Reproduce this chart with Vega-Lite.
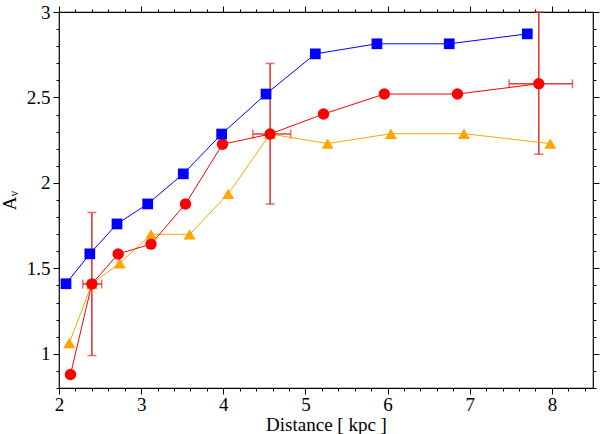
{
  "$schema": "https://vega.github.io/schema/vega-lite/v6.json",
  "description": "A_V versus distance, three series with error bars on the red one.",
  "width": 534,
  "height": 376,
  "autosize": "none",
  "padding": {"left": 59, "top": 12, "right": 7, "bottom": 46},
  "background": "white",
  "datasets": {
    "pts": [
      {"s": "o", "x": 2.125, "y": 1.063},
      {"s": "o", "x": 2.40, "y": 1.409},
      {"s": "o", "x": 2.74, "y": 1.53},
      {"s": "o", "x": 3.12, "y": 1.699},
      {"s": "o", "x": 3.59, "y": 1.699},
      {"s": "o", "x": 4.06, "y": 1.936},
      {"s": "o", "x": 4.57, "y": 2.286},
      {"s": "o", "x": 5.27, "y": 2.23},
      {"s": "o", "x": 6.04, "y": 2.288},
      {"s": "o", "x": 6.93, "y": 2.288},
      {"s": "o", "x": 7.98, "y": 2.23},
      {"s": "r", "x": 2.14, "y": 0.879},
      {"s": "r", "x": 2.40, "y": 1.409},
      {"s": "r", "x": 2.72, "y": 1.584},
      {"s": "r", "x": 3.12, "y": 1.642},
      {"s": "r", "x": 3.54, "y": 1.877},
      {"s": "r", "x": 3.99, "y": 2.226},
      {"s": "r", "x": 4.57, "y": 2.286},
      {"s": "r", "x": 5.22, "y": 2.403},
      {"s": "r", "x": 5.96, "y": 2.52},
      {"s": "r", "x": 6.85, "y": 2.52},
      {"s": "r", "x": 7.84, "y": 2.58},
      {"s": "b", "x": 2.085, "y": 1.41},
      {"s": "b", "x": 2.375, "y": 1.585},
      {"s": "b", "x": 2.706, "y": 1.76},
      {"s": "b", "x": 3.08, "y": 1.877},
      {"s": "b", "x": 3.513, "y": 2.053},
      {"s": "b", "x": 3.98, "y": 2.286},
      {"s": "b", "x": 4.52, "y": 2.52},
      {"s": "b", "x": 5.12, "y": 2.755},
      {"s": "b", "x": 5.87, "y": 2.814},
      {"s": "b", "x": 6.75, "y": 2.814},
      {"s": "b", "x": 7.70, "y": 2.872}
    ],
    "err": [
      {"x": 2.40, "y": 1.409, "ylo": 0.99, "yhi": 1.827, "xlo": 2.29, "xhi": 2.52},
      {"x": 4.57, "y": 2.286, "ylo": 1.876, "yhi": 2.699, "xlo": 4.36, "xhi": 4.82},
      {"x": 7.84, "y": 2.58, "ylo": 2.168, "yhi": 3.0, "xlo": 7.48, "xhi": 8.25}
    ]
  },
  "resolve": {
    "scale": {"x": "independent", "y": "independent"},
    "axis": {"x": "independent", "y": "independent"}
  },
  "layer": [
    {
      "data": {"name": "err"},
      "mark": {"type": "rule", "color": "#e23b3b", "strokeWidth": 1.6},
      "encoding": {
        "x": {"field": "x", "type": "quantitative", "scale": {"domain": [2, 8.5], "nice": false, "zero": false},
          "axis": {"orient": "bottom", "values": [2, 2.2, 2.4, 2.6, 2.8, 3, 3.2, 3.4, 3.6, 3.8, 4, 4.2, 4.4, 4.6, 4.8, 5, 5.2, 5.4, 5.6, 5.8, 6, 6.2, 6.4, 6.6, 6.8, 7, 7.2, 7.4, 7.6, 7.8, 8, 8.2, 8.4], "labelColor": "transparent", "tickSize": 3, "tickColor": "black", "title": "minor x", "titleColor": "transparent"}},
        "y": {"field": "ylo", "type": "quantitative", "scale": {"domain": [0.8, 3], "nice": false, "zero": false},
          "axis": {"orient": "left", "values": [0.8, 0.9, 1, 1.1, 1.2, 1.3, 1.4, 1.5, 1.6, 1.7, 1.8, 1.9, 2, 2.1, 2.2, 2.3, 2.4, 2.5, 2.6, 2.7, 2.8, 2.9, 3], "labelColor": "transparent", "tickSize": 3, "tickColor": "black", "title": "minor y", "titleColor": "transparent"}},
        "y2": {"field": "yhi"}
      }
    },
    {
      "data": {"name": "err"},
      "mark": {"type": "rule", "color": "#e23b3b", "strokeWidth": 1.6},
      "encoding": {
        "x": {"field": "xlo", "type": "quantitative", "scale": {"domain": [2, 8.5], "nice": false, "zero": false},
          "axis": {"orient": "top", "values": [2, 3, 4, 5, 6, 7, 8], "labelColor": "transparent", "tickSize": 6, "tickColor": "black", "title": "top", "titleColor": "transparent"}},
        "x2": {"field": "xhi"},
        "y": {"field": "y", "type": "quantitative", "scale": {"domain": [0.8, 3], "nice": false, "zero": false},
          "axis": {"orient": "right", "values": [1, 1.5, 2, 2.5, 3], "labelColor": "transparent", "tickSize": 6, "tickColor": "black", "title": "right", "titleColor": "transparent"}}
      }
    },
    {
      "data": {"name": "err"},
      "mark": {"type": "tick", "orient": "horizontal", "color": "#e23b3b", "size": 9, "thickness": 1.6},
      "encoding": {
        "x": {"field": "x", "type": "quantitative", "scale": {"domain": [2, 8.5], "nice": false, "zero": false},
          "axis": {"orient": "top", "values": [2, 2.2, 2.4, 2.6, 2.8, 3, 3.2, 3.4, 3.6, 3.8, 4, 4.2, 4.4, 4.6, 4.8, 5, 5.2, 5.4, 5.6, 5.8, 6, 6.2, 6.4, 6.6, 6.8, 7, 7.2, 7.4, 7.6, 7.8, 8, 8.2, 8.4], "labelColor": "transparent", "tickSize": 3, "tickColor": "black", "title": "top minor", "titleColor": "transparent"}},
        "y": {"field": "ylo", "type": "quantitative", "scale": {"domain": [0.8, 3], "nice": false, "zero": false},
          "axis": {"orient": "right", "values": [0.8, 0.9, 1, 1.1, 1.2, 1.3, 1.4, 1.5, 1.6, 1.7, 1.8, 1.9, 2, 2.1, 2.2, 2.3, 2.4, 2.5, 2.6, 2.7, 2.8, 2.9, 3], "labelColor": "transparent", "tickSize": 3, "tickColor": "black", "title": "right minor", "titleColor": "transparent"}}
      }
    },
    {
      "data": {"name": "err"},
      "mark": {"type": "tick", "orient": "horizontal", "color": "#e23b3b", "size": 9, "thickness": 1.6},
      "encoding": {
        "x": {"field": "x", "type": "quantitative", "scale": {"domain": [2, 8.5], "nice": false, "zero": false}, "axis": null},
        "y": {"field": "yhi", "type": "quantitative", "scale": {"domain": [0.8, 3], "nice": false, "zero": false}, "axis": null}
      }
    },
    {
      "data": {"name": "err"},
      "mark": {"type": "tick", "orient": "vertical", "color": "#e23b3b", "size": 9, "thickness": 1.6},
      "encoding": {
        "x": {"field": "xlo", "type": "quantitative", "scale": {"domain": [2, 8.5], "nice": false, "zero": false}, "axis": null},
        "y": {"field": "y", "type": "quantitative", "scale": {"domain": [0.8, 3], "nice": false, "zero": false}, "axis": null}
      }
    },
    {
      "data": {"name": "err"},
      "mark": {"type": "tick", "orient": "vertical", "color": "#e23b3b", "size": 9, "thickness": 1.6},
      "encoding": {
        "x": {"field": "xhi", "type": "quantitative", "scale": {"domain": [2, 8.5], "nice": false, "zero": false}, "axis": null},
        "y": {"field": "y", "type": "quantitative", "scale": {"domain": [0.8, 3], "nice": false, "zero": false}, "axis": null}
      }
    },
    {
      "data": {"name": "pts"},
      "mark": {"type": "line", "strokeWidth": 1},
      "encoding": {
        "x": {"field": "x", "type": "quantitative", "scale": {"domain": [2, 8.5], "nice": false, "zero": false},
          "axis": {"orient": "bottom", "values": [2, 3, 4, 5, 6, 7, 8], "tickSize": 6, "tickColor": "black", "labelPadding": 1, "labelFontSize": 19, "labelFont": "Liberation Serif", "labelColor": "black", "labelFlush": false, "labelOverlap": false, "title": "Distance [ kpc ]", "titleFont": "Liberation Serif", "titleFontWeight": "normal", "titleColor": "black", "titleFontSize": 19, "titlePadding": 1}},
        "y": {"field": "y", "type": "quantitative", "scale": {"domain": [0.8, 3], "nice": false, "zero": false},
          "axis": {"orient": "left", "values": [1, 1.5, 2, 2.5, 3], "format": "~g", "tickSize": 6, "tickColor": "black", "labelPadding": 3, "labelFontSize": 19, "labelFont": "Liberation Serif", "labelColor": "black", "labelFlush": false, "labelOverlap": false, "title": "Aᵥ", "titleFont": "Liberation Serif", "titleFontWeight": "normal", "titleColor": "black", "titleFontSize": 19, "titlePadding": 7}},
        "color": {"field": "s", "type": "nominal", "scale": {"domain": ["b", "r", "o"], "range": ["#0000ff", "#ff0000", "#ffa500"]}, "legend": null},
        "order": {"field": "x", "type": "quantitative"}
      }
    },
    {
      "data": {"name": "pts"},
      "mark": {"type": "point", "filled": true, "opacity": 1},
      "encoding": {
        "x": {"field": "x", "type": "quantitative", "scale": {"domain": [2, 8.5], "nice": false, "zero": false}, "axis": null},
        "y": {"field": "y", "type": "quantitative", "scale": {"domain": [0.8, 3], "nice": false, "zero": false}, "axis": null},
        "color": {"field": "s", "type": "nominal", "scale": {"domain": ["b", "r", "o"], "range": ["#0000ff", "#ff0000", "#ffa500"]}, "legend": null},
        "shape": {"field": "s", "type": "nominal", "scale": {"domain": ["b", "r", "o"], "range": ["square", "circle", "triangle-up"]}, "legend": null},
        "size": {"field": "s", "type": "nominal", "scale": {"domain": ["b", "r", "o"], "range": [115, 145, 140]}, "legend": null}
      }
    }
  ],
  "config": {
    "view": {"stroke": "black", "strokeWidth": 1.2},
    "axis": {"grid": false, "domain": false}
  }
}
